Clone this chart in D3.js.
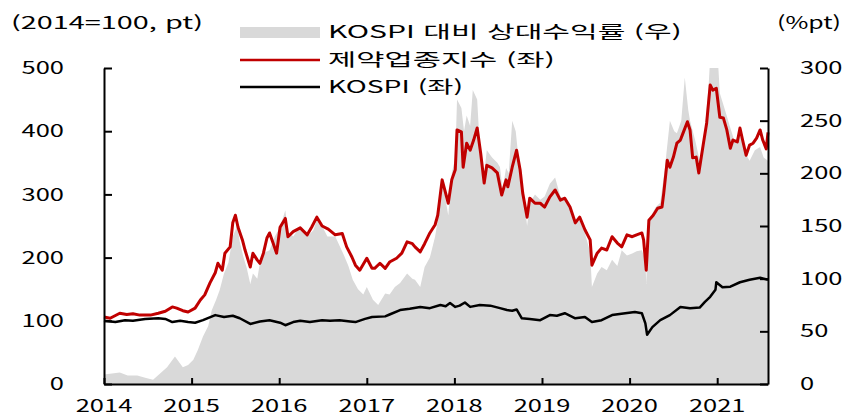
<!DOCTYPE html>
<html lang="ko">
<head>
<meta charset="UTF-8">
<title>제약업종지수 vs KOSPI</title>
<script src="https://d3js.org/d3.v7.min.js"></script>
<style>
  html, body { margin: 0; padding: 0; background: #fff; }
  svg text { font-family: "Noto Sans CJK KR", "Noto Sans", sans-serif; font-size: 17px; fill: #000; }
</style>
</head>
<body>
<div id="chart"></div>
<script>
// values: [decimal year, value]
const years = [2014, 2015, 2016, 2017, 2018, 2019, 2020, 2021];
const leftTicks = [0, 100, 200, 300, 400, 500];
const rightTicks = [0, 50, 100, 150, 200, 250, 300];
const legendLabels = ["KOSPI 대비 상대수익률 (우)", "제약업종지수 (좌)", "KOSPI (좌)"];

// 제약업종지수 (left axis)
const pharma = [[2014.00,106],[2014.07,104],[2014.18,112],[2014.26,110],[2014.33,111],[2014.41,109],[2014.53,109],[2014.62,112],[2014.70,115],[2014.78,122],[2014.83,120],[2014.90,116],[2014.96,114],[2015.04,120],[2015.10,133],[2015.15,141],[2015.21,160],[2015.27,176],[2015.30,191],[2015.35,180],[2015.38,207],[2015.44,217],[2015.47,255],[2015.50,267],[2015.53,248],[2015.58,228],[2015.61,212],[2015.67,185],[2015.70,207],[2015.75,196],[2015.78,191],[2015.82,207],[2015.86,231],[2015.89,239],[2015.93,223],[2015.97,207],[2016.01,248],[2016.07,262],[2016.10,233],[2016.16,241],[2016.24,247],[2016.32,236],[2016.37,248],[2016.43,264],[2016.49,250],[2016.56,245],[2016.64,236],[2016.72,238],[2016.77,217],[2016.83,201],[2016.87,188],[2016.92,180],[2017.00,199],[2017.06,183],[2017.09,183],[2017.15,191],[2017.21,183],[2017.26,193],[2017.34,199],[2017.40,207],[2017.46,225],[2017.52,222],[2017.55,217],[2017.61,209],[2017.66,222],[2017.72,239],[2017.78,252],[2017.81,267],[2017.86,323],[2017.89,307],[2017.93,286],[2017.97,323],[2018.01,339],[2018.03,402],[2018.08,399],[2018.10,343],[2018.14,381],[2018.18,370],[2018.22,386],[2018.26,405],[2018.30,365],[2018.34,318],[2018.37,346],[2018.43,342],[2018.49,334],[2018.54,299],[2018.59,323],[2018.61,312],[2018.66,343],[2018.71,370],[2018.75,339],[2018.78,302],[2018.83,264],[2018.86,294],[2018.92,286],[2018.98,286],[2019.03,280],[2019.09,296],[2019.15,307],[2019.21,291],[2019.26,294],[2019.32,280],[2019.38,255],[2019.43,264],[2019.49,244],[2019.55,228],[2019.57,188],[2019.63,207],[2019.68,215],[2019.74,212],[2019.80,233],[2019.86,223],[2019.91,217],[2019.97,236],[2020.03,233],[2020.08,236],[2020.14,239],[2020.16,228],[2020.19,180],[2020.22,259],[2020.27,267],[2020.32,278],[2020.37,280],[2020.39,302],[2020.43,354],[2020.46,343],[2020.50,359],[2020.54,381],[2020.58,386],[2020.61,397],[2020.66,415],[2020.69,402],[2020.72,358],[2020.76,359],[2020.79,334],[2020.84,378],[2020.88,413],[2020.92,473],[2020.95,465],[2020.99,468],[2021.03,422],[2021.07,421],[2021.11,402],[2021.15,373],[2021.18,386],[2021.23,383],[2021.26,405],[2021.29,386],[2021.33,362],[2021.37,378],[2021.41,381],[2021.45,389],[2021.49,402],[2021.52,386],[2021.56,372],[2021.58,398]];

// KOSPI (left axis)
const kospi = [[2014.00,100],[2014.13,98],[2014.24,101],[2014.33,100],[2014.47,103],[2014.62,104],[2014.70,103],[2014.78,98],[2014.87,100],[2014.96,98],[2015.04,97],[2015.13,101],[2015.27,109],[2015.37,106],[2015.47,108],[2015.55,104],[2015.67,95],[2015.78,99],[2015.89,101],[2016.01,97],[2016.07,93],[2016.16,98],[2016.24,100],[2016.35,98],[2016.49,101],[2016.58,100],[2016.69,101],[2016.81,99],[2016.87,98],[2016.98,103],[2017.06,106],[2017.21,107],[2017.26,110],[2017.38,117],[2017.49,119],[2017.61,122],[2017.72,120],[2017.84,125],[2017.90,123],[2017.95,128],[2018.01,122],[2018.06,124],[2018.12,129],[2018.18,122],[2018.29,125],[2018.41,124],[2018.52,120],[2018.60,117],[2018.66,116],[2018.71,118],[2018.77,104],[2018.86,103],[2018.98,101],[2019.09,109],[2019.17,108],[2019.26,112],[2019.38,104],[2019.49,106],[2019.57,98],[2019.68,101],[2019.80,109],[2019.95,112],[2020.06,114],[2020.14,112],[2020.18,96],[2020.20,78],[2020.26,90],[2020.35,101],[2020.46,109],[2020.58,122],[2020.69,120],[2020.80,121],[2020.86,130],[2020.92,138],[2020.98,149],[2020.99,161],[2021.06,153],[2021.15,154],[2021.26,161],[2021.37,165],[2021.49,168],[2021.58,165]];

// KOSPI 대비 상대수익률 (right axis, %pt)
const relative = [[2014.00,9],[2014.09,10],[2014.18,11],[2014.27,8],[2014.38,8],[2014.47,6],[2014.56,4],[2014.64,10],[2014.72,16],[2014.81,26],[2014.90,16],[2014.96,18],[2015.02,23],[2015.07,32],[2015.13,45],[2015.19,55],[2015.23,70],[2015.28,80],[2015.32,89],[2015.37,105],[2015.42,115],[2015.47,140],[2015.52,150],[2015.55,135],[2015.59,121],[2015.63,110],[2015.67,95],[2015.70,105],[2015.75,100],[2015.78,115],[2015.84,125],[2015.89,127],[2015.95,140],[2016.01,149],[2016.07,165],[2016.10,145],[2016.16,140],[2016.24,150],[2016.32,140],[2016.39,146],[2016.44,158],[2016.49,150],[2016.55,140],[2016.64,140],[2016.73,124],[2016.79,112],[2016.84,99],[2016.90,90],[2016.96,85],[2017.00,92],[2017.07,80],[2017.13,75],[2017.21,86],[2017.26,85],[2017.32,92],[2017.38,96],[2017.46,105],[2017.52,100],[2017.55,99],[2017.61,92],[2017.66,111],[2017.72,120],[2017.78,140],[2017.81,155],[2017.86,190],[2017.89,180],[2017.93,160],[2017.97,200],[2018.01,215],[2018.03,270],[2018.08,262],[2018.11,240],[2018.14,255],[2018.18,245],[2018.21,279],[2018.26,270],[2018.29,225],[2018.34,200],[2018.37,222],[2018.43,215],[2018.49,210],[2018.52,206],[2018.55,185],[2018.59,205],[2018.62,200],[2018.66,250],[2018.70,240],[2018.75,200],[2018.79,180],[2018.83,150],[2018.86,172],[2018.92,180],[2018.98,175],[2019.03,178],[2019.09,190],[2019.15,196],[2019.21,178],[2019.26,175],[2019.32,170],[2019.38,153],[2019.43,155],[2019.49,143],[2019.55,125],[2019.57,92],[2019.63,105],[2019.68,111],[2019.74,108],[2019.80,118],[2019.86,112],[2019.91,127],[2019.97,122],[2020.03,124],[2020.08,126],[2020.14,127],[2020.18,118],[2020.19,95],[2020.21,150],[2020.26,162],[2020.30,168],[2020.35,172],[2020.40,203],[2020.46,250],[2020.51,240],[2020.54,238],[2020.59,250],[2020.63,291],[2020.67,260],[2020.69,250],[2020.75,231],[2020.80,212],[2020.86,243],[2020.90,280],[2020.92,310],[2020.98,310],[2021.01,305],[2021.03,276],[2021.09,260],[2021.15,243],[2021.20,230],[2021.26,240],[2021.32,219],[2021.37,212],[2021.43,222],[2021.49,225],[2021.53,215],[2021.58,212]];

const W = 845, H = 418;
const mLeft = 104, mRight = 768, mTop = 68, mBottom = 384;
const SX = 1.5; // glyphs in the reference are drawn wide

const x = d3.scaleLinear().domain([2014, 2021.58]).range([mLeft, mRight]);
const yL = d3.scaleLinear().domain([0, 500]).range([mBottom, mTop]);
const yR = d3.scaleLinear().domain([0, 300]).range([mBottom, mTop]);

const svg = d3.select("#chart").append("svg")
    .attr("width", W).attr("height", H);

svg.append("clipPath").attr("id", "plot")
  .append("rect").attr("x", mLeft).attr("y", mTop)
  .attr("width", mRight - mLeft).attr("height", mBottom - mTop);

// text stretched sideways; if width is given the stretch is fitted to it
function label(txt, px, py, anchor, width) {
  const t = svg.append("text")
    .attr("text-anchor", anchor)
    .attr("dy", "0.36em")
    .text(txt);
  let sx = SX;
  if (width) sx = width / t.node().getComputedTextLength();
  t.attr("transform", "translate(" + px + "," + py + ") scale(" + sx + ",1)");
}

// gray area
svg.append("path")
  .datum(relative)
  .attr("clip-path", "url(#plot)")
  .attr("fill", "#d9d9d9")
  .attr("d", d3.area().x(d => x(d[0])).y0(yR(0)).y1(d => yR(d[1])));

// lines
const lineL = d3.line().x(d => x(d[0])).y(d => yL(d[1]));
svg.append("path").datum(kospi)
  .attr("fill", "none").attr("stroke", "#000").attr("stroke-width", 2.5)
  .attr("stroke-linejoin", "round").attr("d", lineL);
svg.append("path").datum(pharma)
  .attr("fill", "none").attr("stroke", "#c00000").attr("stroke-width", 3)
  .attr("stroke-linejoin", "round").attr("d", lineL);

// axes (lines only, labels drawn separately)
const gL = svg.append("g").attr("transform", "translate(" + mLeft + ",0)")
  .call(d3.axisLeft(yL).tickValues(leftTicks).tickSize(-8).tickSizeOuter(0).tickFormat(""));
const gR = svg.append("g").attr("transform", "translate(" + mRight + ",0)")
  .call(d3.axisRight(yR).tickValues(rightTicks).tickSize(-8).tickSizeOuter(0).tickFormat(""));
const gB = svg.append("g").attr("transform", "translate(0," + mBottom + ")")
  .call(d3.axisBottom(x).tickValues(years).tickSize(-6).tickSizeOuter(0).tickFormat(""));
[gL, gR, gB].forEach(g => {
  g.selectAll("path, line").attr("stroke", "#000").attr("stroke-width", 2);
});

leftTicks.forEach(v => label(v, 64, yL(v), "end"));
rightTicks.forEach(v => label(v, 800, yR(v), "start"));
years.forEach(v => label(v, x(v), 406, "middle"));

label("(2014=100, pt)", 11, 23, "start", 192);
label("(%pt)", 777, 23, "start", 64);

// legend
svg.append("rect").attr("x", 240).attr("y", 27).attr("width", 80).attr("height", 11).attr("fill", "#d9d9d9");
svg.append("line").attr("x1", 240).attr("x2", 320).attr("y1", 60).attr("y2", 60)
  .attr("stroke", "#c00000").attr("stroke-width", 2.5);
svg.append("line").attr("x1", 240).attr("x2", 320).attr("y1", 87).attr("y2", 87)
  .attr("stroke", "#000").attr("stroke-width", 2.5);
label(legendLabels[0], 328, 32, "start", 354);
label(legendLabels[1], 328, 60, "start", 227);
label(legendLabels[2], 328, 87, "start", 135);
</script>
</body>
</html>
